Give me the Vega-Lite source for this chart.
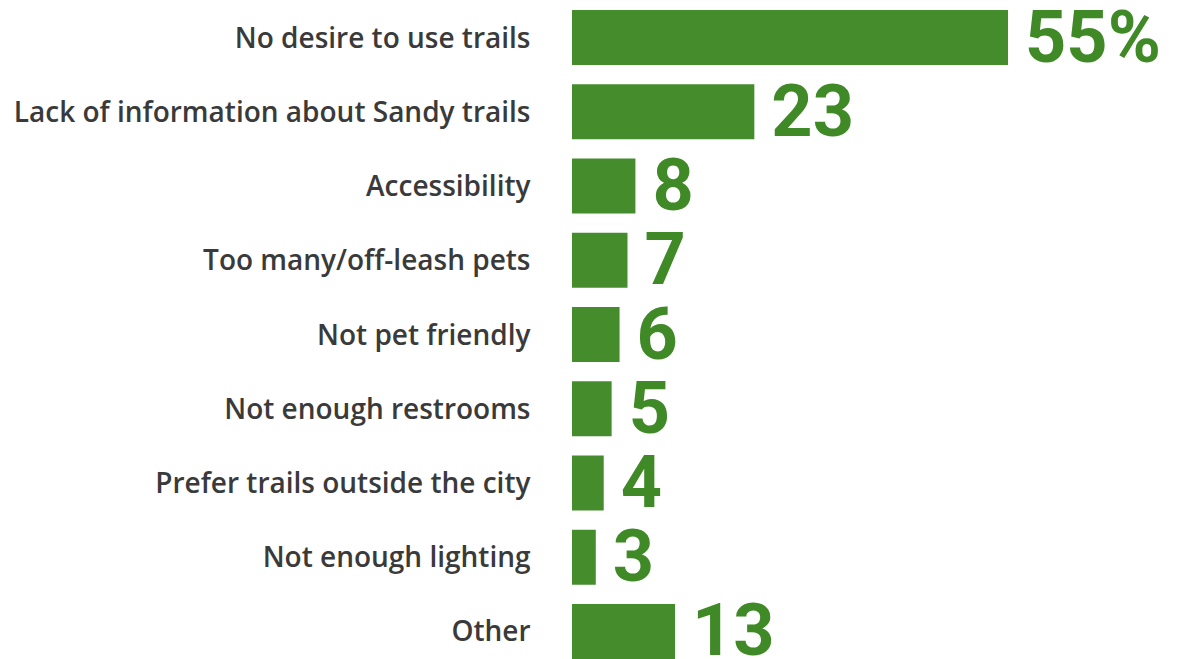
{
  "$schema": "https://vega.github.io/schema/vega-lite/v6.json",
  "autosize": "none",
  "width": 612,
  "height": 649,
  "padding": {"left": 572, "top": 10, "right": 0, "bottom": 0},
  "background": "white",
  "config": {"view": {"stroke": null}},
  "data": {
    "values": [
      {"reason": "No desire to use trails", "pct": 55, "label": "55%"},
      {"reason": "Lack of information about Sandy trails", "pct": 23, "label": "23"},
      {"reason": "Accessibility", "pct": 8, "label": "8"},
      {"reason": "Too many/off-leash pets", "pct": 7, "label": "7"},
      {"reason": "Not pet friendly", "pct": 6, "label": "6"},
      {"reason": "Not enough restrooms", "pct": 5, "label": "5"},
      {"reason": "Prefer trails outside the city", "pct": 4, "label": "4"},
      {"reason": "Not enough lighting", "pct": 3, "label": "3"},
      {"reason": "Other", "pct": 13, "label": "13"}
    ]
  },
  "encoding": {
    "y": {
      "field": "reason",
      "type": "nominal",
      "sort": null,
      "scale": {"paddingInner": 0.259, "paddingOuter": 0},
      "axis": {
        "title": null,
        "domain": false,
        "ticks": false,
        "labelPadding": 42,
        "labelOffset": 2,
        "labelFont": "Open Sans",
        "labelFontSize": 28,
        "labelFontWeight": 600,
        "labelColor": "#3a3a3a",
        "labelLimit": 600
      }
    },
    "x": {
      "field": "pct",
      "type": "quantitative",
      "scale": {"domain": [0, 77.2], "nice": false, "zero": true},
      "axis": null
    }
  },
  "layer": [
    {"mark": {"type": "bar", "color": "#448c2c", "cornerRadius": 0}},
    {
      "mark": {
        "type": "text",
        "align": "left",
        "baseline": "middle",
        "dx": 17,
        "dy": 2,
        "font": "Roboto",
        "fontSize": 72,
        "fontWeight": 700,
        "color": "#3f8a27"
      },
      "encoding": {"text": {"field": "label"}}
    }
  ]
}
